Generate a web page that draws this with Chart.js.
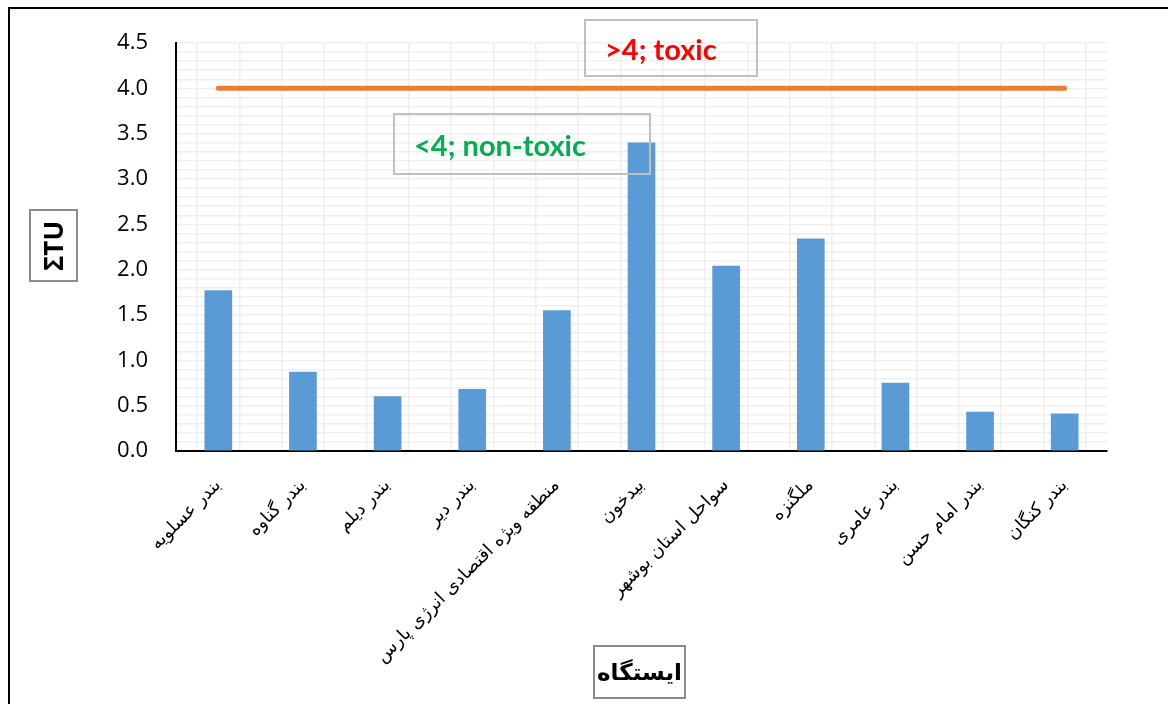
<!DOCTYPE html>
<html>
<head>
<meta charset="utf-8">
<script src="https://cdn.jsdelivr.net/npm/chart.js@4.4.0/dist/chart.umd.min.js"></script>
<style>
  html, body { margin: 0; padding: 0; background: #fff; }
  body { width: 1168px; height: 704px; position: relative; overflow: hidden; }
  #frame { position: absolute; left: 8px; top: 7px; width: 1200px; height: 760px; border: 2px solid #000; box-sizing: border-box; }
  #wrap { position: absolute; left: 0; top: 0; width: 1168px; height: 704px; }
  .box { position: absolute; box-sizing: border-box; display: flex; align-items: center; font-weight: bold; }
  #ylab { left: 29px; top: 209px; width: 49px; height: 73px; border: 2px solid #8c8c8c; justify-content: center; }
  #ylab span { transform: rotate(-90deg); font: bold 26px "Open Sans", sans-serif; white-space: nowrap; }
  #xlab { left: 593px; top: 645px; width: 93px; height: 54px; border: 2px solid #8c8c8c; justify-content: center; font: bold 23px "DejaVu Sans", sans-serif; direction: rtl; }
  #toxic { left: 584px; top: 19px; width: 174px; height: 58px; border: 2px solid #c0c0c0; padding-left: 19px; color: #ff0000; font: bold 29px Lato, sans-serif; }
  #nontoxic { left: 393px; top: 113px; width: 258px; height: 62px; border: 2px solid #c0c0c0; padding-left: 19px; color: #00b050; font: bold 29px Lato, sans-serif; }
</style>
</head>
<body>
<div id="frame"></div>
<div id="wrap"><canvas id="myChart" width="1168" height="704"></canvas></div>
<div class="box" id="ylab"><span>ΣTU</span></div>
<div class="box" id="xlab">ایستگاه</div>
<div class="box" id="toxic">&gt;4; toxic</div>
<div class="box" id="nontoxic">&lt;4; non-toxic</div>
<script>
var stations = ['بندر عسلویه', 'بندر گناوه', 'بندر دیلم', 'بندر دیر', 'منطقه ویژه اقتصادی انرژی پارس',
    'بیدخون', 'سواحل استان بوشهر', 'ملگنزه', 'بندر عامری', 'بندر امام حسن', 'بندر کنگان'];
var sumTU = [1.77, 0.87, 0.60, 0.68, 1.55, 3.40, 2.04, 2.34, 0.75, 0.43, 0.41];
var toxicLimit = [4, 4, 4, 4, 4, 4, 4, 4, 4, 4, 4];
var yTickLabels = ['0.0', '0.5', '1.0', '1.5', '2.0', '2.5', '3.0', '3.5', '4.0', '4.5'];

var ctx = document.getElementById('myChart').getContext('2d');
var myChart = new Chart(ctx, {
    type: 'bar',
    data: {
        datasets: [{
            type: 'line',
            label: 'toxic limit',
            data: toxicLimit.map(function (v, i) { return { x: i, y: v }; }),
            borderColor: '#ed7d31',
            borderWidth: 5,
            borderCapStyle: 'round',
            pointRadius: 0,
            fill: false
        },
        {
            label: 'ΣTU',
            data: sumTU.map(function (v, i) { return { x: i, y: v }; }),
            backgroundColor: '#5b9bd5',
            barThickness: 27
        }]
    },
    options: {
        responsive: false,
        animation: false,
        layout: { padding: { top: 43, right: 61, left: 0, bottom: 0 } },
        plugins: {
            legend: { display: false },
            tooltip: { enabled: false }
        },
        scales: {
            x: {
                type: 'linear',
                offset: false,
                min: -0.5,
                max: 10.5,
                afterFit: function (scale) { scale.height = 253; },
                grid: { color: '#efefef', lineWidth: 1.5, drawTicks: false },
                border: { color: '#000', width: 2 },
                ticks: {
                    stepSize: 0.5,
                    autoSkip: false,
                    minRotation: 45,
                    maxRotation: 45,
                    padding: 24,
                    color: '#000',
                    font: { family: '"DejaVu Sans", sans-serif', size: 18 },
                    callback: function (value) {
                        return Number.isInteger(value) ? stations[value] : '';
                    }
                }
            },
            y: {
                min: 0,
                max: 4.5,
                afterFit: function (scale) { scale.width = 176; },
                grid: { color: '#efefef', lineWidth: 1.5, drawTicks: false },
                border: { color: '#000', width: 2 },
                ticks: {
                    stepSize: 0.1,
                    autoSkip: false,
                    padding: 28,
                    color: '#000',
                    font: { family: '"Open Sans", sans-serif', size: 22 },
                    callback: function (value) {
                        var h = Math.round(value * 2);
                        return Math.abs(value * 2 - h) < 1e-6 ? yTickLabels[h] : '';
                    }
                }
            }
        }
    }
});
</script>
</body>
</html>
